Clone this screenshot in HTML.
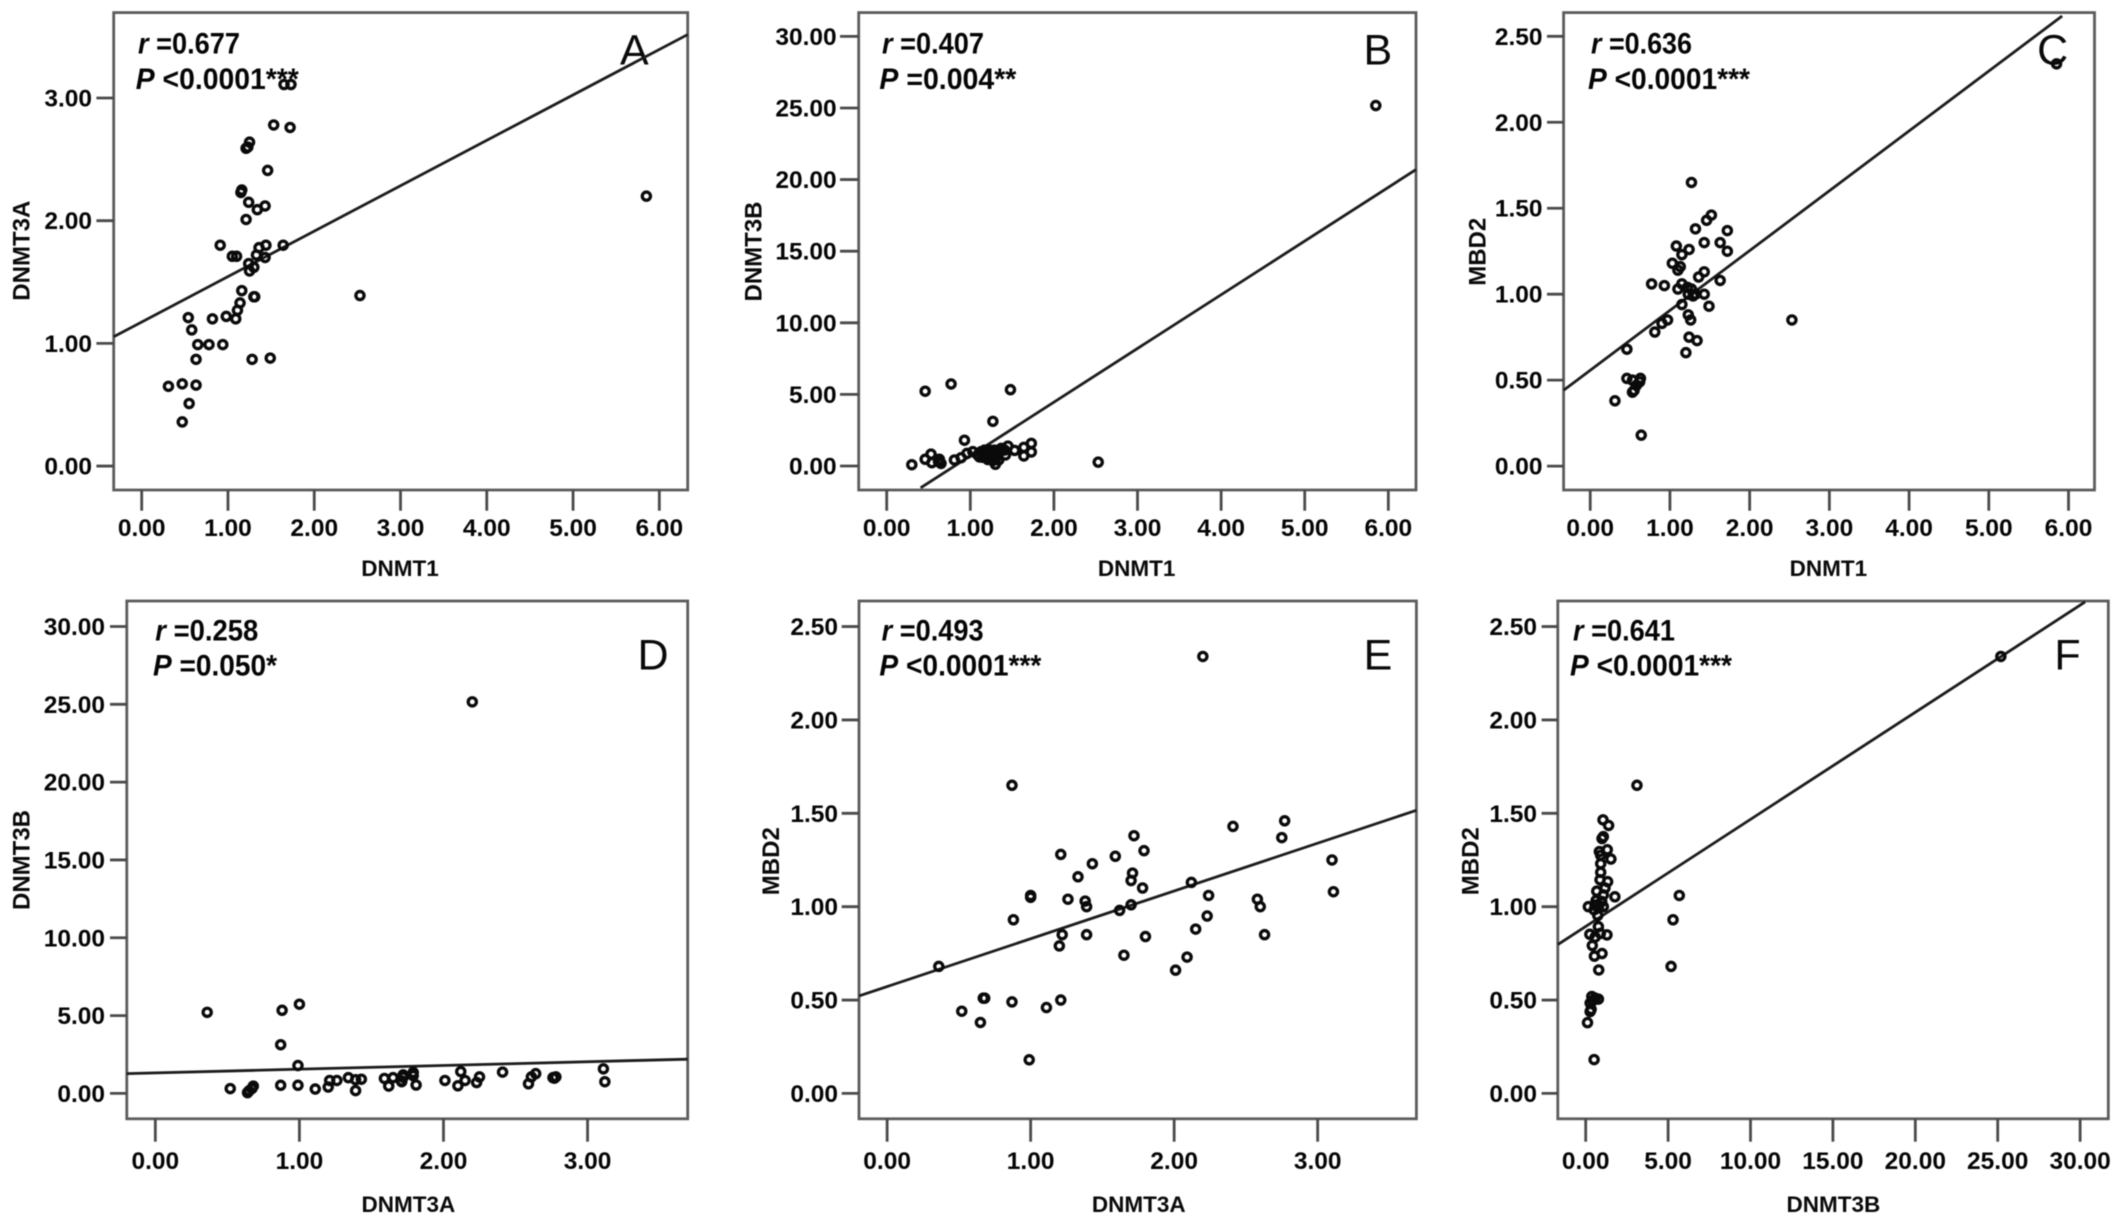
<!DOCTYPE html>
<html lang="en">
<head>
<meta charset="utf-8">
<title>Correlation scatter plots of DNMT1, DNMT3A, DNMT3B and MBD2</title>
<style>
html,body{margin:0;padding:0;background:#fff;width:2126px;height:1232px;overflow:hidden}
svg{display:block;font-family:"Liberation Sans",sans-serif;filter:blur(.45px)}
.tick{font-size:24.5px;font-weight:bold;fill:#050505}
.xt{font-size:22.5px;font-weight:bold;fill:#0a0a0a;text-anchor:middle}
.yt{font-size:24px;font-weight:bold;fill:#0a0a0a;text-anchor:middle}
.st{font-size:29.5px;font-weight:bold;fill:#050505}
.st .i{font-style:italic}
.let{font-size:43px;fill:#0a0a0a;text-anchor:middle}
</style>
</head>
<body>
<svg id="figure" width="2126" height="1232" viewBox="0 0 2126 1232" xmlns="http://www.w3.org/2000/svg">
<g id="panel-a">
<text class="xt" x="400" y="576">DNMT1</text>
<text class="yt" transform="translate(29.4,250.7) rotate(-90)">DNMT3A</text>
<text class="st" x="138" y="53.6" textLength="102" lengthAdjust="spacingAndGlyphs"><tspan class="i">r</tspan> =0.677</text>
<text class="st" x="135.8" y="88.8" textLength="163" lengthAdjust="spacingAndGlyphs"><tspan class="i">P</tspan> &lt;0.0001***</text>
<text class="let" x="634.4" y="64.3">A</text>
</g>
<g id="panel-b">
<text class="xt" x="1136.6" y="576">DNMT1</text>
<text class="yt" transform="translate(761.7,251.5) rotate(-90)">DNMT3B</text>
<text class="st" x="882" y="53.6" textLength="102" lengthAdjust="spacingAndGlyphs"><tspan class="i">r</tspan> =0.407</text>
<text class="st" x="879.4" y="88.8" textLength="137" lengthAdjust="spacingAndGlyphs"><tspan class="i">P</tspan> =0.004**</text>
<text class="let" x="1377.9" y="64.3">B</text>
</g>
<g id="panel-c">
<text class="xt" x="1828.4" y="576">DNMT1</text>
<text class="yt" transform="translate(1485.3,251.8) rotate(-90)">MBD2</text>
<text class="st" x="1591" y="53.6" textLength="101" lengthAdjust="spacingAndGlyphs"><tspan class="i">r</tspan> =0.636</text>
<text class="st" x="1588" y="88.8" textLength="162" lengthAdjust="spacingAndGlyphs"><tspan class="i">P</tspan> &lt;0.0001***</text>
<text class="let" x="2052.7" y="64.3">C</text>
</g>
<g id="panel-d">
<text class="xt" x="408.4" y="1212">DNMT3A</text>
<text class="yt" transform="translate(29.4,860) rotate(-90)">DNMT3B</text>
<text class="st" x="155.3" y="640.3" textLength="103" lengthAdjust="spacingAndGlyphs"><tspan class="i">r</tspan> =0.258</text>
<text class="st" x="153" y="675.4" textLength="124" lengthAdjust="spacingAndGlyphs"><tspan class="i">P</tspan> =0.050*</text>
<text class="let" x="653" y="669.3">D</text>
</g>
<g id="panel-e">
<text class="xt" x="1138.8" y="1212">DNMT3A</text>
<text class="yt" transform="translate(778.9,861.2) rotate(-90)">MBD2</text>
<text class="st" x="881.6" y="640.3" textLength="102" lengthAdjust="spacingAndGlyphs"><tspan class="i">r</tspan> =0.493</text>
<text class="st" x="879.4" y="675.4" textLength="162" lengthAdjust="spacingAndGlyphs"><tspan class="i">P</tspan> &lt;0.0001***</text>
<text class="let" x="1378" y="669.3">E</text>
</g>
<g id="panel-f">
<text class="xt" x="1833.4" y="1212">DNMT3B</text>
<text class="yt" transform="translate(1478.5,861.2) rotate(-90)">MBD2</text>
<text class="st" x="1573" y="640.3" textLength="102" lengthAdjust="spacingAndGlyphs"><tspan class="i">r</tspan> =0.641</text>
<text class="st" x="1570" y="675.4" textLength="162" lengthAdjust="spacingAndGlyphs"><tspan class="i">P</tspan> &lt;0.0001***</text>
<text class="let" x="2067.5" y="669.3">F</text>
</g>
</svg>
<script>
// ---- Tick values ----
const ticksDnmt1 = ['0.00','1.00','2.00','3.00','4.00','5.00','6.00'];
const ticksDnmt3a = ['0.00','1.00','2.00','3.00'];
const ticksDnmt3aY = ['0.00','1.00','2.00','3.00'];
const ticksDnmt3b = ['0.00','5.00','10.00','15.00','20.00','25.00','30.00'];
const ticksMbd2 = ['0.00','0.50','1.00','1.50','2.00','2.50'];

// ---- Panel A: DNMT1 vs DNMT3A ----
const aX = [.31,.47,.63,.55,.47,.63,.65,.78,.94,.58,.54,.82,.98,1.09,1.11,1.14,1.16,1.28,1.49,1.31,1.30,2.53,1.25,1.24,1.30,1.05,1.10,.91,1.33,1.43,1.36,1.44,1.64,1.21,1.34,1.43,1.24,1.15,1.16,1.46,1.21,1.23,1.25,1.53,1.72,1.65,1.73,5.85];
const aY = [.65,.67,.66,.51,.36,.87,.99,.99,.99,1.11,1.21,1.20,1.22,1.20,1.27,1.33,1.43,.87,.88,1.38,1.38,1.39,1.59,1.65,1.62,1.71,1.71,1.80,1.72,1.70,1.78,1.80,1.80,2.01,2.09,2.12,2.15,2.23,2.25,2.41,2.59,2.60,2.64,2.78,2.76,3.11,3.11,2.20];
const fitAX = [-.325,6.329];
const fitAY = [1.054,3.517];

// ---- Panel B: DNMT1 vs DNMT3B ----
const bX = [.30,.46,.53,.54,.63,.62,.65,.81,.89,.96,.93,1.27,.46,.77,1.48,1.03,1.09,1.13,1.15,1.19,1.23,1.23,1.27,1.29,1.30,1.31,1.34,1.34,1.37,1.42,1.45,1.53,1.64,1.64,1.73,1.73,1.11,1.17,1.21,1.27,1.33,1.41,2.53,5.85];
const bY = [.09,.47,.83,.23,.47,.30,.18,.42,.58,.88,1.80,3.12,5.22,5.73,5.33,1.0,.77,1.0,.61,.88,1.11,.54,.77,1.11,.12,.61,1.0,.42,1.23,.77,1.39,1.09,1.30,.70,1.58,.98,.63,1.11,.45,.38,.77,1.11,.27,25.17];
const fitBX = [.406,6.331];
const fitBY = [-1.52,20.7];

// ---- Panel C: DNMT1 vs MBD2 ----
const cX = [.31,.46,.46,.53,.63,.62,.58,.55,.53,.64,.81,.90,.97,.77,.93,1.15,1.10,1.15,1.22,1.27,1.23,1.29,1.32,1.43,1.49,1.23,1.26,1.24,1.34,1.20,1.36,1.43,1.63,1.03,1.10,1.13,1.15,1.08,1.24,1.43,1.63,1.72,1.72,1.32,1.46,1.52,1.27,2.53,5.85];
const cY = [.38,.68,.51,.50,.51,.49,.47,.44,.43,.18,.78,.83,.85,1.06,1.05,.94,1.03,1.06,1.04,1.03,1.00,.99,1.00,1.00,.93,.88,.85,.75,.73,.66,1.10,1.13,1.08,1.18,1.14,1.16,1.23,1.28,1.26,1.30,1.30,1.25,1.37,1.38,1.43,1.46,1.65,.85,2.34];
const fitCX = [-.334,5.92];
const fitCY = [.441,2.618];

// ---- Panel D: DNMT3A vs DNMT3B ----
const dX = [.36,.88,1.00,.87,.99,2.20,.52,.64,.65,.67,.68,.87,.99,1.11,1.20,1.21,1.26,1.34,1.39,1.39,1.43,1.59,1.62,1.65,1.71,1.72,1.72,1.71,1.79,1.79,1.81,2.01,2.10,2.12,2.15,2.23,2.25,2.41,2.59,2.61,2.64,2.76,2.77,2.78,3.11,3.12];
const dY = [5.21,5.34,5.73,3.13,1.79,25.16,.31,.05,.16,.31,.47,.52,.52,.28,.41,.83,.83,1.01,.88,.18,.91,.96,.47,1.01,.80,1.04,1.19,.75,1.35,1.14,.54,.83,.49,1.40,.83,.70,1.06,1.37,.62,1.06,1.27,1.01,.98,1.06,1.58,.75];
const fitDX = [-.198,3.695];
const fitDY = [1.27,2.2];

// ---- Panel E: DNMT3A vs MBD2 ----
const eX = [.36,.52,.65,.67,.68,.87,.88,.87,1.00,1.00,.99,1.11,1.21,1.20,1.22,1.21,1.26,1.33,1.38,1.39,1.39,1.43,1.59,1.62,1.65,1.70,1.70,1.71,1.72,1.78,1.79,1.80,2.01,2.09,2.12,2.15,2.23,2.24,2.20,2.41,2.58,2.60,2.63,2.75,2.77,3.10,3.11];
const eY = [.68,.44,.38,.51,.51,.49,.93,1.65,1.06,1.05,.18,.46,.50,.79,.85,1.28,1.04,1.16,1.03,1.00,.85,1.23,1.27,.98,.74,1.01,1.14,1.18,1.38,1.10,1.30,.84,.66,.73,1.13,.88,.95,1.06,2.34,1.43,1.04,1.00,.85,1.37,1.46,1.25,1.08];
const fitEX = [-.196,3.688];
const fitEY = [.522,1.516];

// ---- Panel F: DNMT3B vs MBD2 ----
const fX = [1.05,1.39,1.07,.99,.83,1.31,1.53,.91,.91,.91,.87,1.33,1.17,.67,1.77,1.07,.63,.97,.57,.16,1.07,.77,.51,.73,.77,.89,.25,1.29,.57,.40,.99,.53,.79,.37,.57,.77,.43,.27,.33,.27,.11,.51,3.11,5.18,5.30,5.68,25.19];
const fY = [1.465,1.435,1.375,1.365,1.295,1.305,1.255,1.275,1.23,1.184,1.144,1.134,1.10,1.083,1.053,1.063,1.033,1.028,1.008,1.0,1.0,.993,.983,.953,.893,.857,.852,.849,.837,.792,.749,.735,.661,.519,.51,.505,.497,.484,.45,.438,.379,.181,1.65,.68,.93,1.06,2.34];
const fitFX = [-1.69,30.3];
const fitFY = [.797,2.632];

// ---- Layout (frame rectangle, visible domains, tick-label offsets) ----
const layout = {
  a:{l:113.7,r:687.7,t:12.6,b:490,dx:[-.3246,6.329],dy:[-.195,3.696],ylabR:92,yTickL:96.4,xlabY:536,xTickB:510.7,pts:[aX,aY],fit:[fitAX,fitAY],xt:ticksDnmt1,yt:ticksDnmt3aY},
  b:{l:858.7,r:1416,t:12.6,b:490,dx:[-.335,6.331],dy:[-1.676,31.66],ylabR:836.7,yTickL:840,xlabY:536,xTickB:510.7,pts:[bX,bY],fit:[fitBX,fitBY],xt:ticksDnmt1,yt:ticksDnmt3b},
  c:{l:1563.6,r:2094.5,t:12.6,b:490,dx:[-.334,6.326],dy:[-.139,2.638],ylabR:1542.5,yTickL:1547,xlabY:536,xTickB:510.7,pts:[cX,cY],fit:[fitCX,fitCY],xt:ticksDnmt1,yt:ticksMbd2},
  d:{l:126.8,r:687.7,t:601,b:1118.8,dx:[-.198,3.695],dy:[-1.632,31.64],ylabR:105,yTickL:110,xlabY:1169,xTickB:1141.7,pts:[dX,dY],fit:[fitDX,fitDY],xt:ticksDnmt3a,yt:ticksDnmt3b},
  e:{l:859,r:1416.4,t:601,b:1118.8,dx:[-.196,3.688],dy:[-.136,2.637],ylabR:838,yTickL:841.7,xlabY:1169,xTickB:1141.7,pts:[eX,eY],fit:[fitEX,fitEY],xt:ticksDnmt3a,yt:ticksMbd2},
  f:{l:1557.8,r:2108.3,t:601,b:1118.8,dx:[-1.693,31.71],dy:[-.136,2.637],ylabR:1537,yTickL:1541.6,xlabY:1169,xTickB:1141.7,pts:[fX,fY],fit:[fitFX,fitFY],xt:ticksDnmt3b,yt:ticksMbd2}
};

const NS = 'http://www.w3.org/2000/svg';
function make(tag, attrs){
  const el = document.createElementNS(NS, tag);
  for (const k in attrs) el.setAttribute(k, attrs[k]);
  return el;
}
Object.keys(layout).forEach(function(key){
  const p = layout[key];
  const g = document.getElementById('panel-' + key);
  const sx = v => p.l + (v - p.dx[0]) / (p.dx[1] - p.dx[0]) * (p.r - p.l);
  const sy = v => p.b - (v - p.dy[0]) / (p.dy[1] - p.dy[0]) * (p.b - p.t);

  const frame = make('rect', {x:p.l, y:p.t, width:p.r-p.l, height:p.b-p.t, fill:'none', stroke:'#5c5c5c', 'stroke-width':2.8});
  
  
  g.appendChild(frame);

  p.xt.forEach(function(lab){
    const v = parseFloat(lab);
    const t = make('line', {x1:sx(v), x2:sx(v), y1:p.b, y2:p.xTickB, stroke:'#4a4a4a', 'stroke-width':2.8});
    
    
    g.appendChild(t);
    const l = make('text', {x:sx(v), y:p.xlabY, 'class':'tick', 'text-anchor':'middle'});
    
    
    l.textContent = lab;
    g.appendChild(l);
  });
  p.yt.forEach(function(lab){
    const v = parseFloat(lab);
    const t = make('line', {x1:p.yTickL, x2:p.l, y1:sy(v), y2:sy(v), stroke:'#4a4a4a', 'stroke-width':2.8});
    
    
    g.appendChild(t);
    const l = make('text', {x:p.ylabR, y:sy(v)+8.5, 'class':'tick', 'text-anchor':'end'});
    
    
    l.textContent = lab;
    g.appendChild(l);
  });

  const fit = make('line', {x1:sx(p.fit[0][0]), y1:sy(p.fit[1][0]), x2:sx(p.fit[0][1]), y2:sy(p.fit[1][1]), stroke:'#1c1c1c', 'stroke-width':2.8});
  
  
  g.appendChild(fit);

  p.pts[0].forEach(function(xv, i){
    const c = make('circle', {cx:sx(xv), cy:sy(p.pts[1][i]), r:4.1, fill:'none', stroke:'#0a0a0a', 'stroke-width':3.3});
    
    
    g.appendChild(c);
  });
});
</script>
</body>
</html>
